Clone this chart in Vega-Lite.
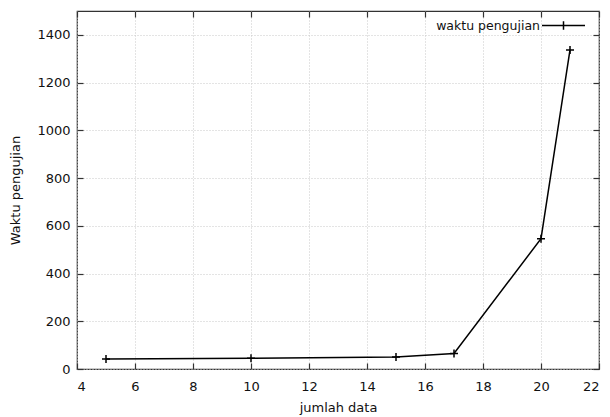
{
  "$schema": "https://vega.github.io/schema/vega-lite/v6.json",
  "width": 522,
  "height": 358,
  "autosize": {"type": "none"},
  "padding": {"left": 77, "top": 11, "right": 11, "bottom": 48},
  "background": "white",
  "config": {
    "view": {"stroke": "#333333", "strokeWidth": 1.2},
    "font": "DejaVu Sans",
    "axis": {
      "labelFont": "DejaVu Sans",
      "labelFontSize": 13,
      "labelColor": "#111111",
      "titleFont": "DejaVu Sans",
      "titleFontSize": 13,
      "titleFontWeight": "normal",
      "titleColor": "#111111",
      "domain": false,
      "tickColor": "#333333",
      "tickWidth": 1.2,
      "tickSize": -6,
      "gridColor": "#c8c8c8",
      "gridDash": [1, 2],
      "gridWidth": 1
    }
  },
  "data": {
    "values": [
      {"jumlah": 5, "waktu": 42, "series": "waktu pengujian"},
      {"jumlah": 10, "waktu": 45, "series": "waktu pengujian"},
      {"jumlah": 15, "waktu": 50, "series": "waktu pengujian"},
      {"jumlah": 17, "waktu": 65, "series": "waktu pengujian"},
      {"jumlah": 20, "waktu": 546, "series": "waktu pengujian"},
      {"jumlah": 21, "waktu": 1337, "series": "waktu pengujian"}
    ]
  },
  "resolve": {"axis": {"x": "independent", "y": "independent"}},
  "layer": [
    {
      "mark": {"type": "line", "strokeWidth": 1.5},
      "encoding": {
        "x": {
          "field": "jumlah", "type": "quantitative",
          "scale": {"domain": [4, 22], "nice": false, "zero": false},
          "axis": {"values": [4, 6, 8, 10, 12, 14, 16, 18, 20, 22], "format": "d", "title": "jumlah data", "labelPadding": 17, "titlePadding": 8, "grid": true}
        },
        "y": {
          "field": "waktu", "type": "quantitative",
          "scale": {"domain": [0, 1500], "nice": false},
          "axis": {"values": [0, 200, 400, 600, 800, 1000, 1200, 1400], "format": "d", "title": "Waktu pengujian", "labelPadding": 13, "titlePadding": 14, "grid": true}
        },
        "color": {
          "field": "series", "type": "nominal",
          "scale": {"range": ["black"]},
          "legend": {
            "title": null,
            "orient": "none",
            "legendX": 464,
            "legendY": -8,
            "padding": 0,
            "symbolType": "M-1,0H1M0,-0.2V0.2",
            "symbolSize": 1849,
            "symbolStrokeWidth": 1.5,
            "symbolStrokeColor": "black",
            "symbolFillColor": "transparent",
            "labelAlign": "right",
            "labelOffset": -46,
            "labelFont": "DejaVu Sans",
            "labelFontSize": 12.5,
            "labelColor": "#111111"
          }
        }
      }
    },
    {
      "mark": {"type": "point", "shape": "M-1,0H1M0,-1V1", "size": 64, "filled": false, "stroke": "black", "strokeWidth": 1.5, "opacity": 1},
      "encoding": {
        "x": {"field": "jumlah", "type": "quantitative", "axis": null},
        "y": {"field": "waktu", "type": "quantitative", "axis": null}
      }
    },
    {
      "mark": {"type": "point", "opacity": 0},
      "encoding": {
        "x": {"field": "jumlah", "type": "quantitative", "axis": {"orient": "top", "values": [4, 6, 8, 10, 12, 14, 16, 18, 20, 22], "labels": false, "title": null, "grid": false}},
        "y": {"field": "waktu", "type": "quantitative", "axis": {"orient": "right", "values": [0, 200, 400, 600, 800, 1000, 1200, 1400], "labels": false, "title": null, "grid": false}}
      }
    }
  ]
}
